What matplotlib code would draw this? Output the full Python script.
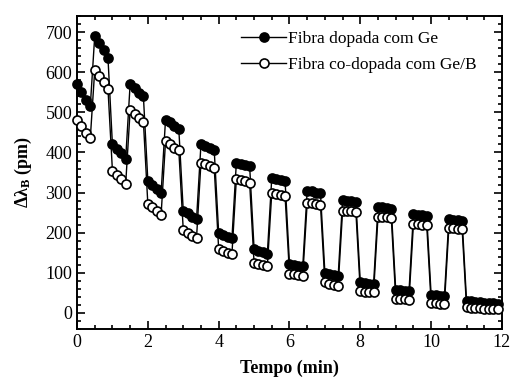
import matplotlib
matplotlib.use('Agg')
import matplotlib.pyplot as plt
from matplotlib.ticker import MultipleLocator

plt.rcParams['font.family'] = ['Liberation Serif', 'DejaVu Serif']
plt.rcParams['mathtext.fontset'] = 'custom'
plt.rcParams['mathtext.rm'] = 'Liberation Serif:bold'
plt.rcParams['mathtext.it'] = 'Liberation Serif:bold'
plt.rcParams['mathtext.bf'] = 'Liberation Serif:bold'

# tempo de cada medida (min), um bloco de 4 pontos a cada 0,5 min
tempo = [0.0, 0.125, 0.25, 0.375, 0.5, 0.625, 0.75, 0.875,
         1.0, 1.125, 1.25, 1.375, 1.5, 1.625, 1.75, 1.875,
         2.0, 2.125, 2.25, 2.375, 2.5, 2.625, 2.75, 2.875,
         3.0, 3.125, 3.25, 3.375, 3.5, 3.625, 3.75, 3.875,
         4.0, 4.125, 4.25, 4.375, 4.5, 4.625, 4.75, 4.875,
         5.0, 5.125, 5.25, 5.375, 5.5, 5.625, 5.75, 5.875,
         6.0, 6.125, 6.25, 6.375, 6.5, 6.625, 6.75, 6.875,
         7.0, 7.125, 7.25, 7.375, 7.5, 7.625, 7.75, 7.875,
         8.0, 8.125, 8.25, 8.375, 8.5, 8.625, 8.75, 8.875,
         9.0, 9.125, 9.25, 9.375, 9.5, 9.625, 9.75, 9.875,
         10.0, 10.125, 10.25, 10.375, 10.5, 10.625, 10.75, 10.875,
         11.0, 11.125, 11.25, 11.375, 11.5, 11.625, 11.75, 11.875]

# deslocamento do comprimento de onda de Bragg (pm)
fibra_ge = [570, 550, 530, 515, 690, 672, 655, 635,
            420, 408, 398, 385, 570, 560, 548, 540,
            330, 320, 310, 300, 482, 475, 465, 458,
            255, 248, 240, 233, 420, 415, 410, 405,
            200, 195, 190, 186, 375, 372, 370, 366,
            160, 155, 152, 148, 337, 334, 332, 330,
            122, 120, 118, 116, 305, 303, 300, 298,
            100, 97, 95, 93, 282, 280, 279, 277,
            76, 74, 73, 72, 265, 263, 261, 259,
            57, 56, 55, 54, 247, 245, 243, 241,
            45, 44, 43, 42, 233, 232, 231, 230,
            30, 29, 28, 27, 26, 25, 24, 23]

fibra_geb = [480, 465, 448, 435, 605, 590, 575, 558,
             355, 345, 333, 322, 505, 495, 487, 477,
             272, 263, 255, 245, 428, 420, 412, 405,
             208, 200, 193, 187, 375, 371, 366, 361,
             160, 155, 150, 147, 335, 332, 328, 324,
             125, 122, 120, 117, 300, 297, 295, 292,
             98, 96, 95, 93, 275, 273, 271, 269,
             76, 73, 70, 68, 255, 254, 253, 252,
             54, 53, 52, 52, 240, 239, 238, 237,
             36, 35, 34, 33, 222, 221, 220, 219,
             25, 24, 23, 22, 212, 211, 210, 210,
             14, 13, 12, 12, 11, 10, 10, 9]

fig = plt.figure(figsize=(5.12, 3.83), dpi=100)
ax = fig.add_axes([0.1504, 0.141, 0.830, 0.817])

ax.plot(tempo, fibra_ge, '-o', color='black', lw=1.0, ms=6.5, mew=1.2,
        mfc='black', mec='black', label='Fibra dopada com Ge', clip_on=False, zorder=3)
ax.plot(tempo, fibra_geb, '-o', color='black', lw=1.0, ms=6.5, mew=1.2,
        mfc='white', mec='black', label='Fibra co-dopada com Ge/B', clip_on=False, zorder=3)

ax.set_xlim(0, 12)
ax.set_ylim(-40, 740)
ax.xaxis.set_major_locator(MultipleLocator(2))
ax.xaxis.set_minor_locator(MultipleLocator(0.5))
ax.yaxis.set_major_locator(MultipleLocator(100))
ax.yaxis.set_minor_locator(MultipleLocator(20))
ax.tick_params(which='both', direction='in', top=True, right=True, labelsize=13, width=1.2)
ax.tick_params(which='major', length=6)
ax.tick_params(which='minor', length=3)
for s in ax.spines.values():
    s.set_linewidth(1.4)

ax.set_xlabel('Tempo (min)', fontsize=13, fontweight='bold', labelpad=6)
ax.set_ylabel(r'$\Delta\lambda_{B}$ (pm)', fontsize=13, fontweight='bold', labelpad=8)

ax.legend(loc='upper left', bbox_to_anchor=(0.37, 0.975), frameon=False, fontsize=12.5,
          handlelength=2.6, handletextpad=0.1, labelspacing=0.55, borderaxespad=0)

fig.savefig('out.png', dpi=100)
